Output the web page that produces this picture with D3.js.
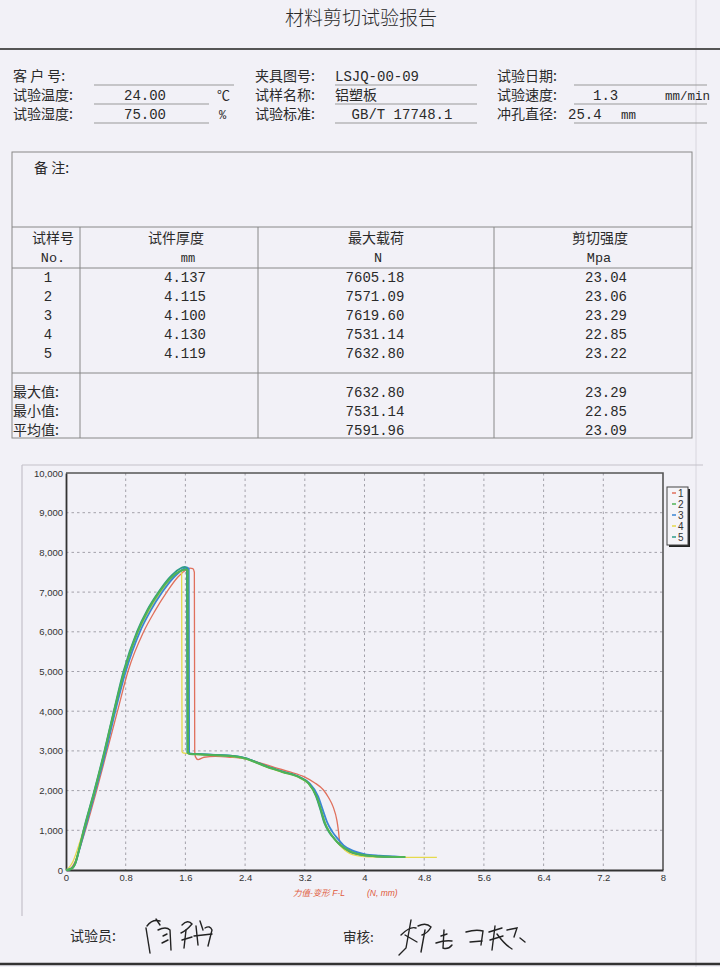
<!DOCTYPE html>
<html><head><meta charset="utf-8">
<script src="https://cdn.jsdelivr.net/npm/d3@7"></script>
<style>body{margin:0;background:#f2f1f7}svg{display:block}</style>
</head><body>
<svg id="c" width="720" height="967"></svg>
<script>
// ---------- data ----------
const seriesNames = ["1","2","3","4","5"];
const seriesColors = ["#e0705c","#4fb356","#3a86d4","#e5da4c","#2e9c8a"];
const disp1 = [0,0.06,0.12,0.19,0.26,0.41,0.55,0.69,0.83,1.04,1.19,1.35,1.50,1.60,1.66,1.70,1.72,1.725,1.735,1.77,1.85,2.00,2.20,2.40,2.60,2.80,3.00,3.20,3.33,3.45,3.52,3.58,3.63,3.65,3.67,3.72,3.80,3.92,4.10,4.30,4.43];
const load1 = [0,40,200,580,1000,2000,3000,4000,5000,6000,6520,7000,7380,7550,7605,7590,7500,3000,2850,2780,2840,2860,2840,2800,2700,2580,2470,2340,2200,2015,1820,1590,1250,1000,680,540,450,390,350,330,320];
const disp2 = [0,0.06,0.12,0.18,0.24,0.385,0.52,0.645,0.78,0.96,1.10,1.25,1.40,1.52,1.60,1.63,1.635,1.66,1.80,2.00,2.20,2.40,2.69,2.90,3.14,3.25,3.36,3.42,3.47,3.54,3.60,3.67,3.81,4.00,4.20,4.40,4.55];
const load2 = [0,20,150,550,1000,2000,3000,4000,5000,6000,6550,7000,7350,7520,7571,7550,2960,2920,2910,2890,2870,2810,2600,2470,2320,2180,1840,1500,1180,930,780,640,470,370,340,330,325];
const disp3 = [0,0.06,0.12,0.18,0.25,0.395,0.535,0.66,0.80,0.99,1.13,1.29,1.43,1.54,1.61,1.645,1.65,1.68,1.80,2.00,2.20,2.40,2.69,2.90,3.14,3.26,3.38,3.44,3.50,3.57,3.64,3.72,3.85,4.00,4.20,4.40,4.48];
const load3 = [0,20,140,520,1000,2000,3000,4000,5000,6000,6520,7000,7340,7540,7620,7590,2950,2930,2920,2900,2880,2820,2610,2480,2330,2190,1850,1520,1200,960,790,620,480,400,360,340,330];
const disp4 = [0,0.04,0.09,0.16,0.235,0.385,0.52,0.645,0.78,0.97,1.11,1.27,1.40,1.50,1.55,1.555,1.57,1.60,1.70,1.85,2.00,2.20,2.40,2.69,2.90,3.14,3.25,3.36,3.42,3.48,3.55,3.62,3.70,3.80,3.90,4.05,4.30,4.60,4.97];
const load4 = [0,60,200,560,1000,2000,3000,4000,5000,6000,6520,7000,7300,7480,7531,2980,2950,2940,2920,2900,2890,2860,2800,2590,2460,2310,2170,1820,1480,1150,900,720,560,420,360,330,320,320,320];
const disp5 = [0,0.06,0.12,0.18,0.235,0.38,0.515,0.64,0.77,0.95,1.09,1.24,1.39,1.51,1.59,1.62,1.625,1.65,1.80,2.00,2.20,2.40,2.69,2.90,3.14,3.25,3.35,3.41,3.46,3.53,3.60,3.68,3.80,4.00,4.20,4.38];
const load5 = [0,20,150,550,1000,2000,3000,4000,5000,6000,6550,7000,7370,7570,7633,7600,2960,2930,2920,2900,2880,2820,2610,2480,2330,2190,1860,1510,1190,940,780,620,470,370,340,330];

const xTicks = [0,0.8,1.6,2.4,3.2,4,4.8,5.6,6.4,7.2,8];
const yTicks = [0,1000,2000,3000,4000,5000,6000,7000,8000,9000,10000];

const sampleNo = ["1","2","3","4","5"];
const thickness = ["4.137","4.115","4.100","4.130","4.119"];
const maxLoad = ["7605.18","7571.09","7619.60","7531.14","7632.80"];
const shearStrength = ["23.04","23.06","23.29","22.85","23.22"];
const summaryLabels = ["最大值:","最小值:","平均值:"];
const summaryLoad = ["7632.80","7531.14","7591.96"];
const summaryStrength = ["23.29","22.85","23.09"];

// ---------- drawing ----------
const svg = d3.select("#c");
const CJK = "'Noto Sans CJK SC', sans-serif";
const MONO = "'Liberation Mono', 'Noto Sans CJK SC', monospace";
const TXT = "#2a2a2a";

svg.append("rect").attr("width",720).attr("height",967).attr("fill","#f2f1f7");
svg.append("line").attr("x1",696).attr("x2",696).attr("y1",0).attr("y2",967).attr("stroke","#d8d6de").attr("stroke-width",1);

function t(x,y,s,opts={}){
  return svg.append("text").attr("x",x).attr("y",y).text(s)
    .attr("font-family",opts.f||CJK).attr("font-size",opts.size||14)
    .attr("fill",opts.fill||TXT).attr("text-anchor",opts.anchor||"start")
    .attr("font-style",opts.style||"normal").attr("font-weight",opts.weight||400);
}
function hl(x1,x2,y,c="#999",w=1){svg.append("line").attr("x1",x1).attr("x2",x2).attr("y1",y).attr("y2",y).attr("stroke",c).attr("stroke-width",w);}
function vl(x,y1,y2,c="#999",w=1){svg.append("line").attr("x1",x).attr("x2",x).attr("y1",y1).attr("y2",y2).attr("stroke",c).attr("stroke-width",w);}

// title
t(361,25,"材料剪切试验报告",{size:19,anchor:"middle",weight:300});
hl(0,720,49,"#555",2);

// info block
const rowsY=[81,100,119];
t(13,rowsY[0],"客 户 号:");
t(13,rowsY[1],"试验温度:");
t(13,rowsY[2],"试验湿度:");
t(145,rowsY[1],"24.00",{f:MONO,anchor:"middle"});
t(145,rowsY[2],"75.00",{f:MONO,anchor:"middle"});
t(217,rowsY[1],"℃",{size:13});
t(219,rowsY[2],"%",{f:MONO,size:12});
t(255,rowsY[0],"夹具图号:");
t(255,rowsY[1],"试样名称:");
t(255,rowsY[2],"试验标准:");
t(335,rowsY[0],"LSJQ-00-09",{f:MONO});
t(335,rowsY[1],"铝塑板");
t(402,rowsY[2],"GB/T 17748.1",{f:MONO,anchor:"middle"});
t(497,rowsY[0],"试验日期:");
t(497,rowsY[1],"试验速度:");
t(497,rowsY[2],"冲孔直径:");
t(593,rowsY[1],"1.3",{f:MONO});
t(665,rowsY[1],"mm/min",{f:MONO,size:12.5});
t(568,rowsY[2],"25.4",{f:MONO});
t(621,rowsY[2],"mm",{f:MONO,size:12.5});
hl(94,234,85); hl(94,209,104); hl(94,209,123);
[85,104,123].forEach(y=>{hl(335,477,y); hl(574,707,y);});

// notes + table box
svg.append("rect").attr("x",12).attr("y",152).attr("width",680).attr("height",286)
  .attr("fill","none").attr("stroke","#888").attr("stroke-width",1);
t(34,173,"备 注:");
hl(12,692,227,"#888"); hl(12,692,268,"#888"); hl(12,692,373,"#888");
[80,258,494].forEach(x=>vl(x,227,438,"#888"));
const colC=[53,176,376,600];
t(colC[0],243,"试样号",{anchor:"middle"});
t(colC[1],243,"试件厚度",{anchor:"middle"});
t(colC[2],243,"最大载荷",{anchor:"middle"});
t(colC[3],243,"剪切强度",{anchor:"middle"});
t(53,262,"No.",{f:MONO,anchor:"middle",size:13.5});
t(188,262,"mm",{f:MONO,anchor:"middle",size:12});
t(378,262,"N",{f:MONO,anchor:"middle",size:13.5});
t(599,262,"Mpa",{f:MONO,anchor:"middle",size:13.5});
const dataY=[282,301,320,339,358];
sampleNo.forEach((d,i)=>{
  t(48,dataY[i],d,{f:MONO,anchor:"middle"});
  t(185,dataY[i],thickness[i],{f:MONO,anchor:"middle"});
  t(375,dataY[i],maxLoad[i],{f:MONO,anchor:"middle"});
  t(606,dataY[i],shearStrength[i],{f:MONO,anchor:"middle"});
});
const sumY=[397,416,435];
summaryLabels.forEach((d,i)=>{
  t(13,sumY[i],d);
  t(375,sumY[i],summaryLoad[i],{f:MONO,anchor:"middle"});
  t(606,sumY[i],summaryStrength[i],{f:MONO,anchor:"middle"});
});

// ---------- chart ----------
hl(22,703,465,"#c4c2ca",1.2);
vl(22,465,916,"#c4c2ca",1.2);

const x = d3.scaleLinear().domain([0,8]).range([66,663]);
const y = d3.scaleLinear().domain([0,10000]).range([870,473]);

const grid = svg.append("g");
grid.selectAll(".gx").data(xTicks.slice(1,-1)).join("line")
  .attr("x1",d=>x(d)).attr("x2",d=>x(d)).attr("y1",y(10000)).attr("y2",y(0))
  .attr("stroke","#9a98a2").attr("stroke-width",0.9).attr("stroke-dasharray","2.5,3");
grid.selectAll(".gy").data(yTicks.slice(1,-1)).join("line")
  .attr("x1",x(0)).attr("x2",x(8)).attr("y1",d=>y(d)).attr("y2",d=>y(d))
  .attr("stroke","#9a98a2").attr("stroke-width",0.9).attr("stroke-dasharray","2.5,3");

svg.append("path").attr("d",`M${x(0)},${y(10000)}H${x(8)}V${y(0)}`).attr("fill","none").attr("stroke","#555").attr("stroke-width",1.6);

const gx = svg.append("g").attr("transform",`translate(0,${y(0)})`)
  .call(d3.axisBottom(x).tickValues(xTicks).tickSize(0).tickPadding(4).tickFormat(d=>String(d)));
const gy = svg.append("g").attr("transform",`translate(${x(0)},0)`)
  .call(d3.axisLeft(y).tickValues(yTicks).tickSize(0).tickPadding(3).tickFormat(d3.format(",")));
[gx,gy].forEach(g=>{
  g.select(".domain").attr("stroke","#333").attr("stroke-width",1.8);
  g.selectAll("text").attr("font-family","'Liberation Sans', Arial, sans-serif").attr("font-size",9.5).attr("fill","#333");
});

const seriesData = [[disp1,load1],[disp2,load2],[disp3,load3],[disp4,load4],[disp5,load5]]
  .map(([dx,dy],i)=>({name:seriesNames[i],color:seriesColors[i],pts:dx.map((v,j)=>[v,dy[j]])}));
const line = d3.line().x(d=>x(d[0])).y(d=>y(d[1])).curve(d3.curveMonotoneX);
const widths=[1.3,2.0,1.8,1.3,1.8];
[0,3,2,4,1].forEach(i=>{
  svg.append("path").attr("d",line(seriesData[i].pts)).attr("fill","none")
    .attr("stroke",seriesData[i].color).attr("stroke-width",widths[i]).attr("stroke-linejoin","round");
});

// axis caption
t(293,896,"力值-变形 F-L",{f:"'Liberation Sans','Noto Sans CJK SC',sans-serif",size:8.5,fill:"#e05a3c",style:"italic"});
t(367,896,"(N, mm)",{f:"'Liberation Sans',sans-serif",size:8.5,fill:"#e05a3c",style:"italic"});

// legend
const lg = svg.append("g");
lg.append("rect").attr("x",669).attr("y",489).attr("width",21).attr("height",58).attr("fill","#222");
lg.append("rect").attr("x",667).attr("y",487).attr("width",21).attr("height",58).attr("fill","#f5f4f8").attr("stroke","#444").attr("stroke-width",1);
seriesData.forEach((s,i)=>{
  const yy=493+i*11;
  lg.append("line").attr("x1",672).attr("x2",676).attr("y1",yy).attr("y2",yy).attr("stroke",s.color).attr("stroke-width",1.5);
  lg.append("text").attr("x",678).attr("y",yy+3.5).text(s.name)
    .attr("font-family","'Liberation Sans',Arial,sans-serif").attr("font-size",10).attr("fill","#333");
});

// signatures
t(70,941,"试验员:",{size:14});
t(343,942,"审核:",{size:13.5});
const sig = svg.append("g").attr("fill","none").attr("stroke","#222").attr("stroke-width",1.4).attr("stroke-linecap","round");
["M146,928 L150,953","M147,926 Q152,919 160,921","M156,919 L160,925","M158,930 Q166,926 170,930 L171,950",
 "M163,936 L167,934","M162,943 L168,940","M182,925 Q188,919 192,924 Q186,931 181,933","M186,930 L184,948","M182,940 L192,937",
 "M196,926 L198,945","M200,921 L203,930","M205,928 Q210,925 212,930 L208,946","M194,936 L212,934"
].forEach(d=>sig.append("path").attr("d",d));
["M401,935 Q410,926 416,928","M411,920 L406,948 L399,955","M405,935 L417,942","M418,926 Q426,922 431,927 Q428,933 422,935","M425,930 L421,952",
 "M441,936 L447,934","M436,943 Q445,940 452,941","M444,930 L443,948 Q448,950 452,945",
 "M466,932 Q476,929 483,931 L481,945","M470,942 L482,941",
 "M495,926 L492,950","M489,932 L502,928","M490,940 L503,936","M497,934 Q505,945 512,949","M507,930 L517,928 L514,937","M520,938 L525,942"
].forEach(d=>sig.append("path").attr("d",d));

hl(0,720,964,"#333",2.5);
</script>
</body></html>
